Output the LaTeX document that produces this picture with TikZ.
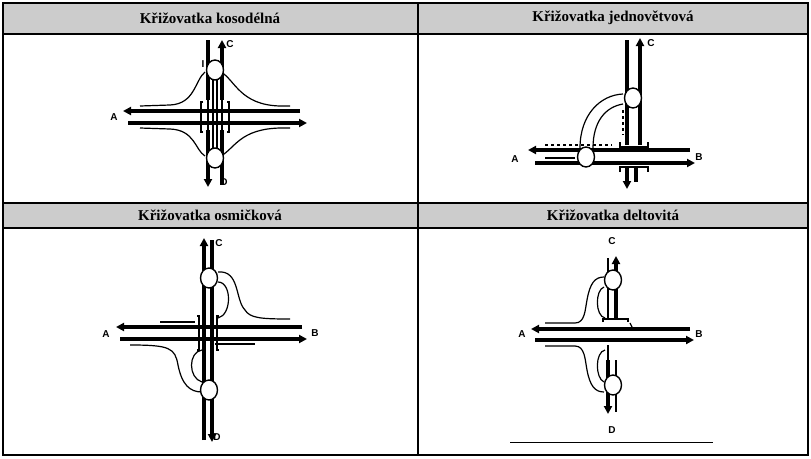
\documentclass[tikz,border=0pt]{standalone}
\usepackage{fontspec}
\setmainfont{Liberation Serif}
\setsansfont{Liberation Sans}
\usetikzlibrary{arrows.meta,shapes.geometric}
\tikzset{
 road/.style={line width=3.4pt},
 thin/.style={line width=1.2pt},
 arr/.style={-{Triangle[length=8pt,width=8pt]}},
 rb/.style={draw,line width=1.4pt,fill=white,ellipse,minimum width=17pt,minimum height=20pt,inner sep=0},
 lab/.style={font=\sffamily\bfseries\fontsize{10}{12}\selectfont},
 head/.style={font=\bfseries\fontsize{15}{18}\selectfont},
}
\begin{document}
\begin{tikzpicture}[x=1pt,y=-1pt]
\useasboundingbox (0,0) rectangle (811,458);
% table
\fill[gray!40] (3,3) rectangle (808,34);
\fill[gray!40] (3,203) rectangle (808,228);
\draw[line width=1.6pt] (3,3) rectangle (808,455);
\draw[line width=1.6pt] (3,34) -- (808,34) (3,203) -- (808,203) (3,228) -- (808,228) (418,3) -- (418,455);
\node[head] (h1) at (210,18) {Křižovatka kosodélná};
\node[head] (h2) at (613,18) {Křižovatka jednovětvová};
\node[head] (h3) at (210,215) {Křižovatka osmičková};
\node[head] (h4) at (613,215) {Křižovatka deltovitá};
% ---------- cell 1
\draw[road] (208,40) -- (208,100);
\draw[road,arr] (222,100) -- (222,40);
\draw[road,arr] (208,130) -- (208,187);
\draw[road] (222,130) -- (222,185);
\draw[thin] (208,80) -- (208,150) (222,80) -- (222,150);
\draw[thin] (213,80) -- (213,150) (217,80) -- (217,150);
\draw[road,arr] (300,111) -- (123,111);
\draw[road,arr] (128,123) -- (307,123);
\draw[thin] (140,106) -- (170,105) .. controls (195,104) and (195,80) .. (205,72);
\draw[thin] (140,128) -- (170,129) .. controls (195,130) and (195,150) .. (205,156);
\draw[thin] (221,72) .. controls (235,80) and (240,105) .. (280,106) -- (290,106);
\draw[thin] (221,156) .. controls (235,148) and (240,129) .. (280,128) -- (290,128);
\draw[thin] (203,102) -- (201,102) -- (201,132) -- (203,132);
\draw[thin] (227,102) -- (229,102) -- (229,132) -- (227,132);
\node[rb] (c1a) at (215,70) {};
\node[rb] (c1b) at (215,158) {};
\node[lab] (A1) at (114,117) {A};
\node[lab] (C1) at (230,44) {C};
\node[lab] (D1) at (224,182) {D};
\node[lab] (I1) at (203,64) {I};
% ---------- cell 2
\draw[road] (627,40) -- (627,145);
\draw[road,arr] (640,145) -- (640,38);
\draw[thin,dashed] (623,110) -- (623,135);
\draw[road,arr] (690,150) -- (528,150);
\draw[road,arr] (535,163) -- (695,163);
\draw[thin,dashed] (545,145) -- (612,145);
\draw[thin] (545,158) -- (575,158);
\draw[thin] (580,148) .. controls (580,115) and (600,95) .. (623,94);
\draw[thin] (593,148) .. controls (593,122) and (605,107) .. (623,104);
\draw[thin] (620,142) -- (620,147) -- (648,147) -- (648,142);
\draw[thin] (620,172) -- (620,167) -- (648,167) -- (648,172);
\draw[road,arr] (627,168) -- (627,189);
\draw[road] (636,168) -- (636,182);
\node[rb] (c2a) at (633,98) {};
\node[rb] (c2b) at (586,157) {};
\node[lab] (A2) at (515,159) {A};
\node[lab] (B2) at (699,157) {B};
\node[lab] (C2) at (651,43) {C};
% ---------- cell 3
\draw[road,arr] (204,440) -- (204,238);
\draw[road,arr] (212,400) -- (212,442);
\draw[road] (212,240) -- (212,400);
\draw[road,arr] (302,327) -- (116,327);
\draw[road,arr] (120,339) -- (307,339);
\draw[thin] (218,272) .. controls (240,270) and (235,300) .. (245,310) .. controls (250,318) and (260,319) .. (290,319);
\draw[thin] (218,282) .. controls (232,282) and (232,315) .. (218,318);
\draw[thin] (130,345) .. controls (170,345) and (175,348) .. (178,365) .. controls (182,385) and (190,392) .. (202,392);
\draw[thin] (202,350) .. controls (188,352) and (188,378) .. (202,382);
\draw[thin] (160,322) -- (195,322);
\draw[thin] (215,344) -- (255,344);
\draw[thin] (197,316) -- (199,316) -- (199,350) -- (197,350);
\draw[thin] (219,316) -- (217,316) -- (217,350) -- (219,350);
\node[rb] (c3a) at (209,278) {};
\node[rb] (c3b) at (209,390) {};
\node[lab] (A3) at (106,334) {A};
\node[lab] (B3) at (315,333) {B};
\node[lab] (C3) at (219,243) {C};
\node[lab] (D3) at (217,437) {D};
% ---------- cell 4
\draw[thin] (608,258) -- (608,318) (608,345) -- (608,410);
\draw[road,arr] (616,318) -- (616,256);
\draw[road,arr] (608,360) -- (608,414);
\draw[thin] (616,360) -- (616,412);
\draw[road,arr] (690,329) -- (531,329);
\draw[road,arr] (535,340) -- (694,340);
\draw[thin] (545,323) -- (575,323) .. controls (585,323) and (585,310) .. (587,300) .. controls (590,283) and (595,277) .. (604,277);
\draw[thin] (605,318) .. controls (595,316) and (595,290) .. (604,287);
\draw[thin] (545,346) -- (575,346) .. controls (585,346) and (585,360) .. (587,370) .. controls (590,386) and (595,392) .. (604,392);
\draw[thin] (605,350) .. controls (595,352) and (595,378) .. (604,382);
\draw[thin] (603,322) -- (603,319) -- (628,319) -- (628,322);
\draw[thin] (630,323) -- (633,329);
\node[rb] (c4a) at (613,280) {};
\node[rb] (c4b) at (613,385) {};
\node[lab] (A4) at (522,334) {A};
\node[lab] (B4) at (699,334) {B};
\node[lab] (C4) at (612,241) {C};
\node[lab] (D4) at (612,430) {D};
\draw[line width=1pt] (510,442) -- (713,442);
\end{tikzpicture}
\end{document}
